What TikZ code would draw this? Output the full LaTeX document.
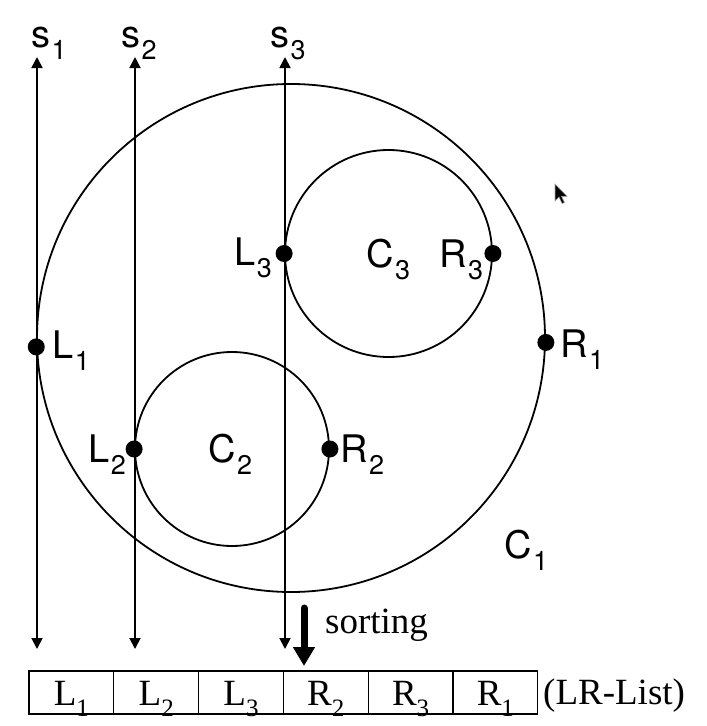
\documentclass[tikz,border=0pt]{standalone}
\usepackage{fontspec}
\setmainfont{Liberation Serif}
\newfontfamily\hv{TeX Gyre Heros}
\usetikzlibrary{arrows.meta}
\newcommand\ssub[1]{\kern1.5pt\raisebox{-12pt}{\fontsize{27}{27}\selectfont #1}}
\newcommand\rsub[1]{\raisebox{-11pt}{\fontsize{25}{25}\selectfont #1}}
\tikzset{
  lab/.style={anchor=base west, inner sep=0pt, font=\hv\fontsize{38}{42}\selectfont},
  sline/.style={line width=1.8pt, {Triangle[width=11pt,length=11pt]}-{Triangle[width=11pt,length=11pt]}},
  ring/.style={circle, draw, line width=1.8pt, inner sep=0pt},
  dot/.style={circle, fill=black, inner sep=0pt, minimum size=17pt},
  cell/.style={draw, line width=1.2pt, minimum width=84.8pt, minimum height=43pt, inner sep=0pt,
    text height=25pt, text depth=0pt, font=\fontsize{37}{40}\selectfont},
  serif/.style={anchor=base west, inner sep=0pt, font=\fontsize{37}{40}\selectfont}
}
\begin{document}
\begin{tikzpicture}[x=1pt,y=-1pt]
\useasboundingbox (0,0) rectangle (707,726);
% circles
\node[ring, minimum size=508pt] (C1) at (291,338) {};
\node[ring, minimum size=194pt] (C2) at (232,449) {};
\node[ring, minimum size=207pt] (C3) at (388.5,253.5) {};
% vertical lines
\coordinate (s1t) at (37,57);  \coordinate (s1b) at (37,649);
\coordinate (s2t) at (135,57); \coordinate (s2b) at (135,649);
\coordinate (s3t) at (285,57); \coordinate (s3b) at (285,649);
\draw[sline] (s1b) -- (s1t);
\draw[sline] (s2b) -- (s2t);
\draw[sline] (s3b) -- (s3t);
% dots
\node[dot] (L1) at (C1.182) {};
\node[dot] (R1) at (C1.359) {};
\node[dot] (L2) at (C2.west) {};
\node[dot] (R2) at (C2.east) {};
\node[dot] (L3) at (C3.west) {};
\node[dot] (R3) at (C3.east) {};
% labels
\node[lab] (ts1) at (31,47) {s\ssub{1}};
\node[lab] (ts2) at (121,47) {s\ssub{2}};
\node[lab] (ts3) at (270,47) {s\ssub{3}};
\node[lab] (tL1) at (52,358) {L\ssub{1}};
\node[lab] (tL2) at (88,462) {L\ssub{2}};
\node[lab] (tL3) at (234,265) {L\ssub{3}};
\node[lab] (tR1) at (560,357) {R\ssub{1}};
\node[lab] (tR2) at (340,462) {R\ssub{2}};
\node[lab] (tR3) at (439,267) {R\ssub{3}};
\node[lab] (tC1) at (504,558) {C\ssub{1}};
\node[lab] (tC2) at (208,462) {C\ssub{2}};
\node[lab] (tC3) at (366,267) {C\ssub{3}};
% cursor
\filldraw[fill=black, draw=black!35, line width=0.6pt]
  (555,184) -- ++(0,17) -- ++(4,-4) -- ++(3,6.5) -- ++(2.5,-1) -- ++(-3,-6.2) -- ++(5.5,0) -- cycle;
% sorting arrow
\coordinate (sa) at (304,608);
\coordinate (sb) at (304,666);
\draw[line width=7pt, line cap=round, -{Triangle[width=21pt,length=19pt]}] (sa) -- (sb);
\node[serif] (sort) at (325,633) {sorting};
% table
\node[cell] (k1) at (71.4,692.5) {L\rsub{1}};
\node[cell] (k2) at (156.2,692.5) {L\rsub{2}};
\node[cell] (k3) at (241,692.5) {L\rsub{3}};
\node[cell] (k4) at (325.8,692.5) {R\rsub{2}};
\node[cell] (k5) at (410.6,692.5) {R\rsub{3}};
\node[cell] (k6) at (495.4,692.5) {R\rsub{1}};
\node[serif] (lr) at (543,704) {(LR-List)};
\end{tikzpicture}
\end{document}
